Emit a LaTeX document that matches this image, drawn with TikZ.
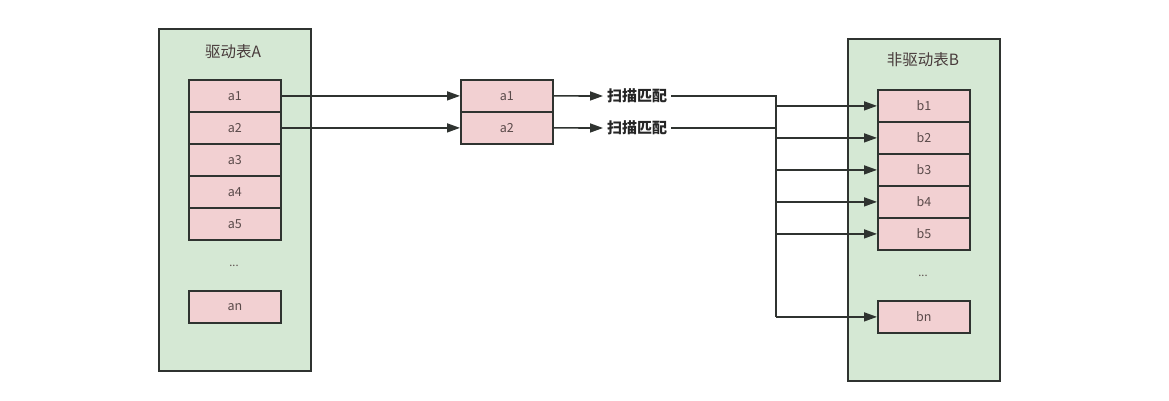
\documentclass[tikz,border=0pt]{standalone}
\usepackage{fontspec}
\setmainfont{Noto Sans CJK SC}
\usetikzlibrary{arrows.meta}
\definecolor{gfill}{HTML}{D5E8D4}
\definecolor{pfill}{HTML}{F2D0D2}
\definecolor{edge}{HTML}{2F3330}
\definecolor{txt}{HTML}{5A4A4A}
\begin{document}
\begin{tikzpicture}[x=1pt,y=-1pt,
  container/.style={draw=edge,line width=1.8pt,fill=gfill,minimum width=152pt,minimum height=342pt,inner sep=0pt,anchor=north west},
  cell/.style={draw=edge,line width=1.8pt,fill=pfill,minimum width=92pt,minimum height=32pt,inner sep=0pt,anchor=north west,font=\fontsize{12.5pt}{14pt}\selectfont,text=txt},
  ttl/.style={font=\fontsize{15.5pt}{18pt}\selectfont,text=txt!80!black},
  dots/.style={font=\fontsize{11pt}{12pt}\selectfont,text=txt},
  lbl/.style={font=\fontsize{15pt}{17pt}\selectfont\bfseries,text=black!85,inner sep=4pt},
  conn/.style={draw=edge,line width=1.6pt},
  arr/.style={conn,-{Triangle[length=13pt,width=9pt]}}]
\useasboundingbox (0,0) rectangle (1169,401);
\fill[white] (0,0) rectangle (1169,401);
% container A
\node[container] (A) at (158,28) {};
\node[ttl] (Atitle) at (233,52) {驱动表A};
\foreach \i/\y in {1/79,2/111,3/143,4/175,5/207}{
  \node[cell] (a\i) at (188,\y) {a\i};
}
\node[dots] (adots) at (234,266) {...};
\node[cell] (an) at (188,290) {an};
% middle
\node[cell] (m1) at (460,79) {a1};
\node[cell] (m2) at (460,111) {a2};
\node[lbl,anchor=west] (s1) at (603,96) {扫描匹配};
\node[lbl,anchor=west] (s2) at (603,128) {扫描匹配};
% container B
\node[container] (B) at (847,38) {};
\node[ttl] (Btitle) at (923,60) {非驱动表B};
\foreach \i/\y in {1/89,2/121,3/153,4/185,5/217}{
  \node[cell] (b\i) at (877,\y) {b\i};
}
\node[dots] (bdots) at (923,276) {...};
\node[cell] (bn) at (877,300) {bn};
% connectors
\draw[arr] (a1.east) -- (m1.west);
\draw[arr] (a2.east) -- (m2.west);
\draw[arr] (m1.east) -- (s1.west);
\draw[arr] (m2.east) -- (s2.west);
\coordinate (v) at (776,0);
\draw[conn] (s1.east) -- (s1.east -| v) -- (bn.west -| v);
\draw[conn] (s2.east) -- (s2.east -| v);
\foreach \n in {b1,b2,b3,b4,b5,bn}{
  \draw[arr] (\n.west -| v) -- (\n.west);
}
\end{tikzpicture}
\end{document}
